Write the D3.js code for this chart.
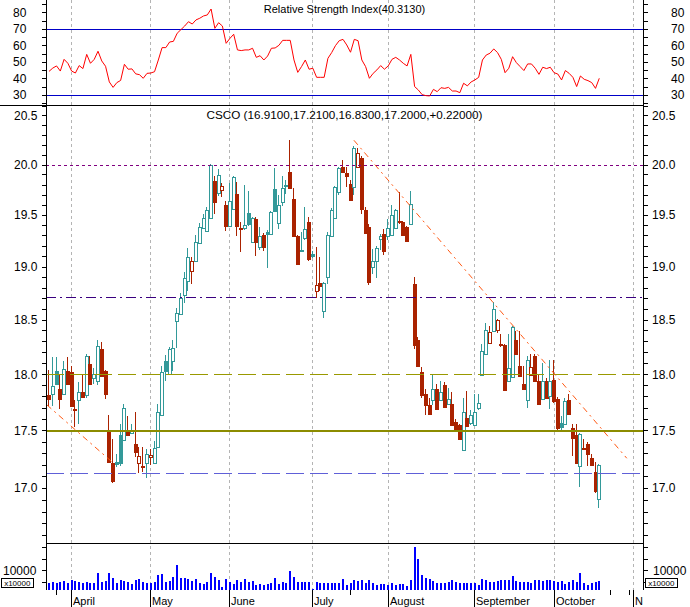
<!DOCTYPE html>
<html><head><meta charset="utf-8">
<script src="https://cdn.jsdelivr.net/npm/d3@7"></script>
<style>
html,body{margin:0;padding:0;background:#fff}
svg{display:block;font-family:"Liberation Sans",Arial,sans-serif}
</style>
</head><body>
<svg id="chart" width="690" height="607"></svg>
<script>
// ---------- DATA ----------
const ticker = "CSCO";
const monthNames = ["March","April","May","June","July","August","September","October","November"];
const monthDays = [
  [23,24,28,29,30,31],
  [1,4,5,6,7,8,11,12,13,14,15,18,19,20,21,22,25,26,27,28,29],
  [2,3,4,5,6,9,10,11,12,13,16,17,18,19,20,23,24,25,26,27,31],
  [1,2,3,6,7,8,9,10,13,14,15,16,17,20,21,22,23,24,27,28,29,30],
  [1,5,6,7,8,11,12,13,14,15,18,19,20,21,22,25,26,27,28,29],
  [1,2,3,4,5,8,9,10,11,12,15,16,17,18,19,22,23,24,25,26,29,30,31],
  [1,2,6,7,8,9,12,13,14,15,16,19,20,21,22,23,26,27,28,29,30],
  [3,4,5,6,7,10,11,12,13,14,17,18,19,20,21,24,25,26,27,28,31],
  [1,2,3]
];
const weekTickDates = ["2005-03-28","2005-07-18","2005-10-24","2005-10-31"];

const open  = [17.82,17.83,18.03,17.87,17.83,18.03,18.02,17.69,17.77,17.84,17.82,18.10,17.97,17.94,18.23,18.03,17.50,17.22,17.23,17.46,17.42,17.50,17.48,17.38,17.22,17.19,17.22,17.27,17.22,17.36,17.64,18.12,18.01,18.12,18.49,18.56,18.74,18.87,18.96,19.06,19.23,19.38,19.35,19.47,19.84,19.72,19.75,19.60,19.40,19.56,19.71,19.38,19.38,19.52,19.24,19.46,19.19,19.31,19.34,19.32,19.76,19.43,19.63,19.79,19.93,19.66,19.30,19.15,19.28,19.44,19.13,18.77,18.85,18.59,18.91,19.30,19.47,19.73,19.98,19.92,19.81,19.78,19.98,20.07,19.55,19.39,19.00,19.06,19.27,19.32,19.30,19.31,19.38,19.45,19.44,19.39,19.42,18.84,18.32,18.02,17.83,17.73,17.77,17.87,17.77,17.91,17.74,17.74,17.58,17.55,17.33,17.61,17.57,17.55,17.70,18.00,18.19,18.29,18.40,18.41,18.28,18.27,17.94,17.98,18.32,18.08,17.92,17.77,18.00,18.17,17.94,17.78,17.94,17.81,17.95,17.78,17.57,17.56,17.77,17.52,17.46,17.19,17.35,17.38,17.26,17.14,16.91];
const high  = [18.04,18.16,18.16,18.00,18.12,18.16,18.08,17.77,17.93,18.00,18.19,18.17,18.06,18.32,18.30,18.04,17.64,17.43,17.30,17.56,17.74,17.63,17.56,17.67,17.36,17.36,17.34,17.34,17.41,17.74,18.08,18.18,18.25,18.32,18.61,18.75,18.95,19.18,19.10,19.31,19.43,19.51,19.58,20.01,19.89,19.96,19.82,19.64,19.82,19.89,19.83,19.44,19.80,19.74,19.48,19.48,19.39,19.33,19.36,19.54,19.97,19.70,19.89,19.85,20.25,19.77,19.31,19.34,19.58,19.48,19.15,19.19,19.10,18.86,19.34,19.57,19.79,19.98,20.05,19.98,19.85,20.19,20.17,20.09,19.58,19.42,19.17,19.20,19.32,19.37,19.46,19.60,19.56,19.73,19.45,19.40,19.74,18.91,18.34,18.07,17.87,17.79,18.00,17.92,17.94,17.93,17.88,17.84,17.60,17.56,17.79,17.85,17.68,17.83,17.83,18.28,18.47,18.45,18.67,18.51,18.37,18.28,18.37,18.45,18.40,18.40,18.08,18.17,18.19,18.19,18.00,18.11,17.97,18.13,18.13,17.80,17.63,17.79,17.83,17.56,17.56,17.48,17.43,17.40,17.30,17.23,17.21];
const low   = [17.72,17.72,17.91,17.69,17.82,17.91,17.71,17.53,17.56,17.79,17.79,17.91,17.92,17.91,17.98,17.78,17.22,17.05,17.18,17.19,17.41,17.45,17.47,17.27,17.13,17.14,17.09,17.20,17.21,17.35,17.63,17.94,18.00,18.03,18.24,18.55,18.66,18.77,18.84,19.05,19.22,19.37,19.34,19.46,19.51,19.69,19.68,19.35,19.39,19.55,19.30,19.14,19.36,19.40,19.23,19.11,19.16,19.15,18.99,19.31,19.53,19.37,19.59,19.71,19.76,19.29,19.02,19.14,19.26,19.06,19.09,18.71,18.77,18.52,18.84,19.29,19.46,19.70,19.92,19.78,19.64,19.70,19.97,19.51,19.32,18.83,18.93,18.90,19.16,19.12,19.26,19.30,19.37,19.42,19.30,19.24,19.41,18.23,18.07,17.79,17.64,17.64,17.73,17.68,17.76,17.70,17.73,17.54,17.50,17.42,17.32,17.53,17.55,17.54,17.68,17.99,18.18,18.28,18.39,18.38,18.25,17.85,17.93,17.97,18.18,17.98,17.86,17.70,17.99,17.93,17.73,17.77,17.78,17.69,17.75,17.51,17.49,17.55,17.64,17.28,17.21,17.01,17.33,17.19,17.19,16.96,16.83];
const close = [17.78,17.90,17.92,17.78,18.05,17.92,17.72,17.68,17.84,17.80,18.17,17.92,18.01,18.26,17.99,17.83,17.23,17.06,17.21,17.22,17.70,17.46,17.50,17.31,17.28,17.18,17.30,17.29,17.35,17.67,18.02,18.03,18.23,18.24,18.57,18.71,18.90,19.10,19.06,19.24,19.39,19.47,19.55,20.00,19.63,19.90,19.79,19.40,19.64,19.88,19.40,19.37,19.41,19.42,19.47,19.24,19.30,19.19,19.32,19.53,19.54,19.60,19.77,19.80,19.77,19.30,19.03,19.16,19.37,19.08,19.11,18.83,18.82,18.85,19.31,19.55,19.78,19.97,19.93,19.89,19.65,20.17,20.12,19.56,19.33,18.86,19.06,19.18,19.30,19.15,19.38,19.50,19.55,19.44,19.31,19.25,19.61,18.27,18.08,17.82,17.73,17.65,17.87,17.69,17.84,17.71,17.78,17.55,17.51,17.43,17.67,17.54,17.64,17.67,17.75,18.22,18.41,18.39,18.60,18.50,18.27,17.86,18.06,18.44,18.19,17.99,17.87,18.13,18.07,17.94,17.74,17.94,17.79,17.94,17.76,17.52,17.53,17.76,17.65,17.44,17.22,17.47,17.34,17.30,17.20,16.98,17.20];
// volume in units of 10000 shares
const volume = [4460,4900,4460,5190,5480,4750,5920,5480,5190,4460,5040,4750,4750,8990,5190,5630,8990,6650,4460,5780,5480,4900,4020,5920,6210,5040,4750,4460,5190,7970,8550,5190,5630,7380,12500,6650,6650,6360,5630,6360,4460,4170,4900,8850,7380,5920,2850,6210,5190,4170,5920,5040,6210,5190,5340,3870,4020,3730,4020,4460,6800,4020,4900,4460,9870,7090,5190,4900,4900,4900,2120,4900,4460,4460,4460,4460,4460,4460,6360,3730,4460,5920,5630,5920,4460,5920,4750,3730,4170,4020,3730,4460,3730,4020,4020,3290,5920,20540,14990,8110,6650,6210,5480,4460,4460,4460,5190,5920,5190,4750,4750,4460,4750,4460,3730,6210,5920,5190,5190,5630,5920,5920,5920,7680,5630,5190,5190,4900,4460,5920,5920,5630,5920,5920,5630,5190,5630,4020,4900,5920,5190,9140,4460,3730,4460,5190,5630];
const rsi = [44.5,46.5,47.8,44.7,51.8,49.4,44.7,43.5,48.0,46.2,54.8,49.4,51.8,56.7,50.8,47.6,38.1,34.8,37.7,39.0,48.8,45.8,46.0,43.0,42.5,40.3,43.3,43.5,44.3,51.4,58.9,58.9,62.3,62.7,67.6,69.8,72.0,74.6,73.2,75.7,76.7,78.1,78.7,82.3,70.6,74.0,72.0,61.5,64.5,67.0,57.5,57.1,57.5,57.5,58.5,53.0,54.0,51.4,53.8,58.5,58.7,60.3,63.3,63.3,63.3,51.4,43.9,47.4,51.4,45.8,46.4,40.9,40.9,40.9,52.4,55.9,60.1,63.1,63.9,60.5,56.1,63.9,63.1,51.4,47.4,40.3,43.3,45.4,48.0,45.8,47.8,51.8,53.0,51.4,49.4,47.8,54.8,35.3,33.2,30.4,29.8,29.6,33.6,32.2,34.6,34.2,34.8,32.6,32.6,31.6,37.3,35.7,38.1,39.3,40.9,51.4,54.4,55.5,58.1,55.9,51.8,43.7,46.4,53.4,49.8,47.4,45.0,49.0,49.0,46.4,42.7,47.0,46.2,47.0,43.7,42.9,39.3,45.0,43.3,40.9,35.3,41.7,39.7,38.9,37.7,34.2,40.313];
const rsiLevels = [70, 30];
const priceLevels = [20.0, 18.71, 18.0, 17.5, 17.13];
// trend lines: [start index, start price, end index, end price]
const trendLines = [
  [-0.6, 17.73, 17.0, 17.22],
  [80.9, 20.25, 153.3, 17.26]
];
const priceTicks = d3.range(166, 207).map(k => k / 10);
const priceLabels = [17.0, 17.5, 18.0, 18.5, 19.0, 19.5, 20.0, 20.5];
const rsiTicks = d3.range(25, 90, 5);
const rsiLabels = [30, 40, 50, 60, 70, 80];
const volTicks = [5000, 10000, 15000, 20000];
const volLabels = [10000];

// ---------- LAYOUT ----------
const L = 46, R = 643;
const svg = d3.select("#chart");
const cr = v => Math.floor(v) + 0.5;

const dates = [];
monthDays.forEach((days, m) => days.forEach(d =>
  dates.push(`2005-${String(m + 3).padStart(2, "0")}-${String(d).padStart(2, "0")}`)));
const n = close.length;

const x = d3.scaleLinear().domain([-0.8, 157.6]).range([L, R]);
const yP = d3.scaleLog().domain([16.538, 20.609]).range([543.3, 105.3]);
const yR = d3.scaleLinear().domain([23.94, 87.76]).range([105.3, 0]);
const yV = d3.scaleLinear().domain([1535, 22018]).range([590, 543.3]);

const TEAL = "#339999", RED = "#aa2200";

// month starts (only months that begin inside the data window)
const monthStarts = [];
monthDays.forEach((days, m) => {
  const key = `2005-${String(m + 3).padStart(2, "0")}-${String(days[0]).padStart(2, "0")}`;
  const idx = dates.indexOf(key);
  const px = x(idx);
  if (idx > 0 && px < R) monthStarts.push({ idx, name: monthNames[m], px });
});

// grid (vertical dashed)
svg.append("g").selectAll("line").data(monthStarts).join("line")
  .attr("x1", d => cr(d.px)).attr("x2", d => cr(d.px))
  .attr("y1", 0).attr("y2", 590)
  .attr("stroke", "#b4b4b4").attr("stroke-dasharray", "3,3");

// ---------- RSI PANEL ----------
svg.append("g").selectAll("line").data(rsiLevels).join("line")
  .attr("x1", L).attr("x2", R)
  .attr("y1", d => cr(yR(d))).attr("y2", d => cr(yR(d)))
  .attr("stroke", "#0000c8").attr("stroke-width", 1);

svg.append("path").datum(rsi)
  .attr("fill", "none").attr("stroke", "#ff0000").attr("stroke-width", 1)
  .attr("d", d3.line().x((d, i) => x(i)).y(d => yR(d)));

svg.append("text").attr("x", (L + R) / 2).attr("y", 13).attr("text-anchor", "middle")
  .attr("font-size", 11).text(`Relative Strength Index(${rsi[n - 1].toFixed(4)})`);

// ---------- PRICE PANEL ----------
const levelStyles = [
  { c: "#800080", w: 1, dash: "3,3" },
  { c: "#3a0080", w: 1, dash: "10,4,2,4" },
  { c: "#999900", w: 1, dash: "18,6" },
  { c: "#8c8c00", w: 2, dash: null },
  { c: "#6060d8", w: 1, dash: "18,6" }
];

// candles
const cg = svg.append("g").attr("shape-rendering", "crispEdges");
for (let i = 0; i < n; i++) {
  const cx = x(i);
  const bx = Math.round(cx) - 2;
  const prev = i > 0 ? close[i - 1] : open[i];
  const col = close[i] < prev ? RED : TEAL;
  const hollow = close[i] > open[i];
  cg.append("line")
    .attr("x1", bx + 1.5).attr("x2", bx + 1.5)
    .attr("y1", yP(high[i])).attr("y2", yP(low[i]))
    .attr("stroke", col).attr("stroke-width", 1);
  const yt = Math.round(yP(Math.max(open[i], close[i])));
  const yb = Math.round(yP(Math.min(open[i], close[i])));
  if (hollow) {
    cg.append("rect").attr("x", bx + 0.5).attr("y", yt + 0.5)
      .attr("width", 3).attr("height", Math.max(1, yb - yt))
      .attr("fill", "#fff").attr("stroke", col).attr("stroke-width", 1);
  } else {
    cg.append("rect").attr("x", bx).attr("y", yt)
      .attr("width", 4).attr("height", Math.max(1, yb - yt + 1))
      .attr("fill", col);
  }
}

// horizontal level lines
svg.append("g").selectAll("line").data(priceLevels).join("line")
  .attr("x1", L).attr("x2", R)
  .attr("y1", (d, i) => levelStyles[i].w === 2 ? Math.round(yP(d)) : cr(yP(d)))
  .attr("y2", (d, i) => levelStyles[i].w === 2 ? Math.round(yP(d)) : cr(yP(d)))
  .attr("stroke", (d, i) => levelStyles[i].c)
  .attr("stroke-width", (d, i) => levelStyles[i].w)
  .attr("stroke-dasharray", (d, i) => levelStyles[i].dash);

// trend lines
svg.append("g").selectAll("line").data(trendLines).join("line")
  .attr("x1", d => x(d[0])).attr("y1", d => yP(d[1]))
  .attr("x2", d => x(d[2])).attr("y2", d => yP(d[3]))
  .attr("stroke", "#ff5a14").attr("stroke-width", 1)
  .attr("stroke-dasharray", "6,4,2,4");

svg.append("text").attr("x", (L + R) / 2).attr("y", 119).attr("text-anchor", "middle")
  .attr("font-size", 11.7)
  .text(`${ticker} (${open[n-1].toFixed(4)},${high[n-1].toFixed(4)},${low[n-1].toFixed(4)},${close[n-1].toFixed(4)},+${(close[n-1]-close[n-2]).toFixed(5)})`);

// ---------- VOLUME PANEL ----------
svg.append("g").attr("shape-rendering", "crispEdges").selectAll("rect").data(volume).join("rect")
  .attr("x", (d, i) => Math.round(x(i)) - 1).attr("width", 2)
  .attr("y", d => yV(d)).attr("height", d => 590 - yV(d))
  .attr("fill", "#0000ff");

// ---------- FRAMES & AXES ----------
const fg = svg.append("g").attr("stroke", "#000").attr("stroke-width", 1).attr("shape-rendering", "crispEdges");
fg.append("line").attr("x1", L + 0.5).attr("x2", L + 0.5).attr("y1", 0).attr("y2", 590);
fg.append("line").attr("x1", R + 0.5).attr("x2", R + 0.5).attr("y1", 0).attr("y2", 590);
fg.append("line").attr("x1", 0).attr("x2", R).attr("y1", 105.5).attr("y2", 105.5);
fg.append("line").attr("x1", L).attr("x2", R).attr("y1", 543.5).attr("y2", 543.5);

function ticks(scale, vals, y0, y1) {
  vals.forEach(v => {
    const yy = cr(scale(v));
    if (yy < y0 || yy > y1) return;
    fg.append("line").attr("x1", L - 4).attr("x2", L).attr("y1", yy).attr("y2", yy);
    fg.append("line").attr("x1", R).attr("x2", R + 5).attr("y1", yy).attr("y2", yy);
  });
}
ticks(yR, rsiTicks, 0, 105);
ticks(yP, priceTicks, 106, 543);
ticks(yV, volTicks, 544, 590);

const tg = svg.append("g").attr("font-size", 12).attr("fill", "#000");
rsiLabels.forEach(v => {
  tg.append("text").attr("x", 13).attr("y", yR(v) + 4).text(v);
  tg.append("text").attr("x", 671).attr("y", yR(v) + 4).text(v);
});
priceLabels.forEach(v => {
  tg.append("text").attr("x", 14).attr("y", yP(v) + 4).text(d3.format(".1f")(v));
  tg.append("text").attr("x", 652).attr("y", yP(v) + 4).text(d3.format(".1f")(v));
});
volLabels.forEach(v => {
  tg.append("text").attr("x", 3).attr("y", yV(v) + 4).text(v);
  tg.append("text").attr("x", 653).attr("y", yV(v) + 4).text(v);
});
[[1.5, 34], [645.5, 678]].forEach(([a, b]) => {
  svg.append("rect").attr("x", a).attr("y", 578.5).attr("width", b - a - 1).attr("height", 9)
    .attr("fill", "#fff").attr("stroke", "#000").attr("shape-rendering", "crispEdges");
  svg.append("text").attr("x", (a + b) / 2 - 0.5).attr("y", 586).attr("text-anchor", "middle")
    .attr("font-size", 8).text("x10000");
});

// date axis (labels clipped at the right plot edge, so November shows as "N")
const clip = svg.append("clipPath").attr("id", "axclip");
clip.append("rect").attr("x", 0).attr("y", 585).attr("width", 643).attr("height", 30);
const ag = svg.append("g").attr("clip-path", "url(#axclip)");
ag.selectAll("line.m").data(monthStarts).join("line").attr("class", "m")
  .attr("x1", d => cr(d.px)).attr("x2", d => cr(d.px)).attr("y1", 590).attr("y2", 607)
  .attr("stroke", "#000").attr("shape-rendering", "crispEdges");
ag.selectAll("text").data(monthStarts).join("text")
  .attr("x", d => cr(d.px) + 1.5).attr("y", 605).attr("font-size", 11).text(d => d.name);
ag.selectAll("line.w").data(weekTickDates.map(d => dates.indexOf(d))).join("line").attr("class", "w")
  .attr("x1", d => cr(x(d))).attr("x2", d => cr(x(d))).attr("y1", 590).attr("y2", 595)
  .attr("stroke", "#000").attr("shape-rendering", "crispEdges");
</script>
</body></html>
